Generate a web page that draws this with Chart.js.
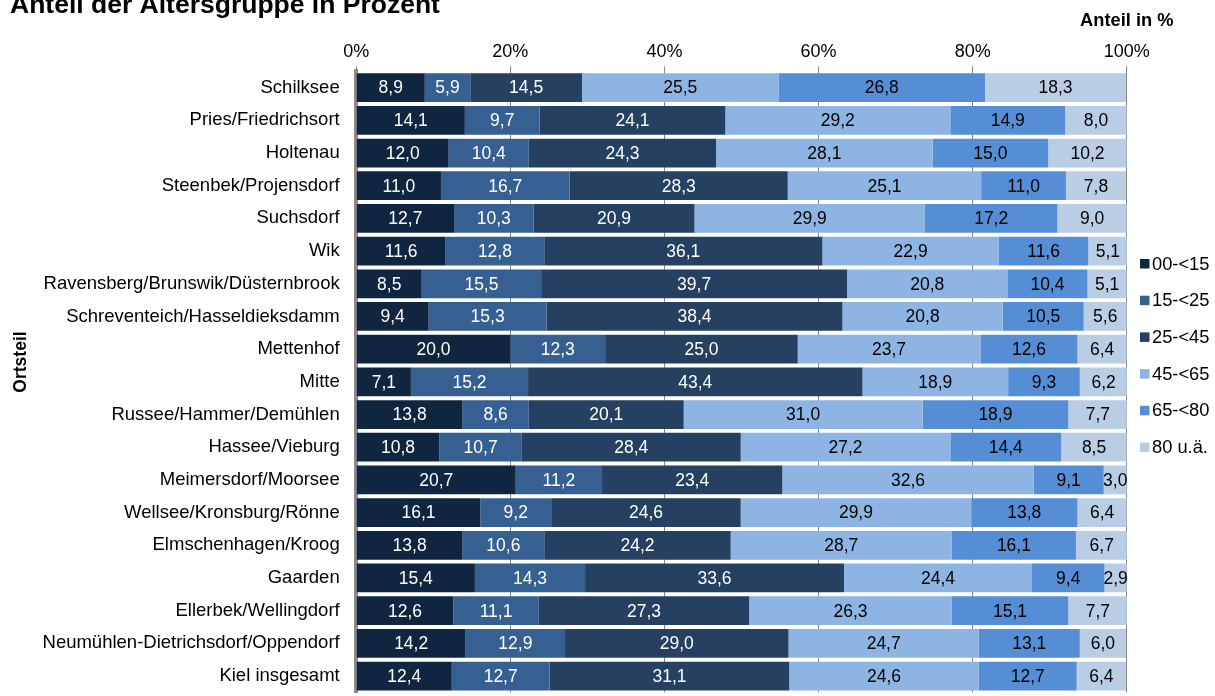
<!DOCTYPE html>
<html>
<head>
<meta charset="utf-8">
<script src="https://cdn.jsdelivr.net/npm/chart.js@4/dist/chart.umd.min.js"></script>
<style>
  html, body { margin: 0; padding: 0; overflow: hidden; background: #fff; }
  canvas { display: block; }
</style>
</head>
<body>
<canvas id="c" width="1215" height="720"></canvas>
<script>
// Kieler Ortsteile, Anteil der Altersgruppen an der Bevölkerung in %
const ortsteile = [
  'Schilksee', 'Pries/Friedrichsort', 'Holtenau', 'Steenbek/Projensdorf', 'Suchsdorf', 'Wik',
  'Ravensberg/Brunswik/Düsternbrook', 'Schreventeich/Hasseldieksdamm', 'Mettenhof', 'Mitte',
  'Russee/Hammer/Demühlen', 'Hassee/Vieburg', 'Meimersdorf/Moorsee', 'Wellsee/Kronsburg/Rönne',
  'Elmschenhagen/Kroog', 'Gaarden', 'Ellerbek/Wellingdorf', 'Neumühlen-Dietrichsdorf/Oppendorf',
  'Kiel insgesamt'
];
const altersgruppen = ['00-<15', '15-<25', '25-<45', '45-<65', '65-<80', '80 u.ä.'];

const anteil00bis15 = [8.9, 14.1, 12.0, 11.0, 12.7, 11.6, 8.5, 9.4, 20.0, 7.1, 13.8, 10.8, 20.7, 16.1, 13.8, 15.4, 12.6, 14.2, 12.4];
const anteil15bis25 = [5.9, 9.7, 10.4, 16.7, 10.3, 12.8, 15.5, 15.3, 12.3, 15.2, 8.6, 10.7, 11.2, 9.2, 10.6, 14.3, 11.1, 12.9, 12.7];
const anteil25bis45 = [14.5, 24.1, 24.3, 28.3, 20.9, 36.1, 39.7, 38.4, 25.0, 43.4, 20.1, 28.4, 23.4, 24.6, 24.2, 33.6, 27.3, 29.0, 31.1];
const anteil45bis65 = [25.5, 29.2, 28.1, 25.1, 29.9, 22.9, 20.8, 20.8, 23.7, 18.9, 31.0, 27.2, 32.6, 29.9, 28.7, 24.4, 26.3, 24.7, 24.6];
const anteil65bis80 = [26.8, 14.9, 15.0, 11.0, 17.2, 11.6, 10.4, 10.5, 12.6, 9.3, 18.9, 14.4, 9.1, 13.8, 16.1, 9.4, 15.1, 13.1, 12.7];
const anteil80plus  = [18.3, 8.0, 10.2, 7.8, 9.0, 5.1, 5.1, 5.6, 6.4, 6.2, 7.7, 8.5, 3.0, 6.4, 6.7, 2.9, 7.7, 6.0, 6.4];

const xTickWerte = [0, 20, 40, 60, 80, 100];

const reihen = [anteil00bis15, anteil15bis25, anteil25bis45, anteil45bis65, anteil65bis80, anteil80plus];
const farben = ['#10253F', '#376092', '#254061', '#8DB4E2', '#558ED5', '#B9CDE5'];
const labelFarben = ['#ffffff', '#ffffff', '#ffffff', '#000000', '#000000', '#000000'];

const FONT = "'Liberation Sans', Arial, Helvetica, sans-serif";

// Werte mittig in jedes Segment schreiben (Dezimalkomma)
const segmentLabels = {
  id: 'segmentLabels',
  afterDatasetsDraw(chart) {
    const ctx = chart.ctx;
    ctx.save();
    ctx.font = '17.5px ' + FONT;
    ctx.textAlign = 'center';
    ctx.textBaseline = 'middle';
    chart.data.datasets.forEach((ds, di) => {
      const meta = chart.getDatasetMeta(di);
      ctx.fillStyle = labelFarben[di];
      meta.data.forEach((bar, i) => {
        const p = bar.getProps(['x', 'y', 'base'], true);
        const txt = ds.data[i].toFixed(1).replace('.', ',');
        ctx.fillText(txt, (p.x + p.base) / 2, p.y + 1);
      });
    });
    ctx.restore();
  }
};

// Überschrift, Achsentitel und Legende
const beschriftung = {
  id: 'beschriftung',
  afterDraw(chart) {
    const ctx = chart.ctx;
    const area = chart.chartArea;
    ctx.save();
    ctx.fillStyle = '#000';

    ctx.font = 'bold 26.5px ' + FONT;
    ctx.textAlign = 'left';
    ctx.textBaseline = 'alphabetic';
    ctx.fillText('Anteil der Altersgruppe in Prozent', 10, 13);

    ctx.font = 'bold 18.3px ' + FONT;
    ctx.textAlign = 'center';
    ctx.textBaseline = 'middle';
    ctx.fillText('Anteil in %', area.right, 21);

    ctx.save();
    ctx.translate(21, 362);
    ctx.rotate(-Math.PI / 2);
    ctx.font = 'bold 17.5px ' + FONT;
    ctx.fillText('Ortsteil', 0, 0);
    ctx.restore();

    ctx.font = '18.3px ' + FONT;
    ctx.textAlign = 'left';
    chart.data.datasets.forEach((ds, i) => {
      const cy = 263.5 + i * 36.7;
      ctx.fillStyle = ds.backgroundColor;
      ctx.fillRect(1140, cy - 4.5, 9.5, 9.5);
      ctx.fillStyle = '#000';
      ctx.fillText(ds.label, 1152, cy + 1);
    });
    ctx.restore();
  }
};

new Chart(document.getElementById('c'), {
  type: 'bar',
  data: {
    labels: ortsteile,
    datasets: reihen.map((werte, i) => ({
      label: altersgruppen[i],
      data: werte,
      backgroundColor: farben[i],
      borderWidth: 0,
      categoryPercentage: 1,
      barPercentage: 0.88
    }))
  },
  options: {
    indexAxis: 'y',
    responsive: false,
    animation: false,
    devicePixelRatio: 1,
    layout: { padding: { left: 0, right: 88.2, top: 0, bottom: 15.3 } },
    plugins: {
      legend: { display: false },
      tooltip: { enabled: false },
      title: { display: false }
    },
    scales: {
      x: {
        position: 'top',
        stacked: true,
        min: 0,
        max: 100,
        afterBuildTicks(scale) { scale.ticks = xTickWerte.map(v => ({ value: v })); },
        afterFit(scale) { scale.height = 71.3; },
        grid: { color: '#868686', lineWidth: 1, drawTicks: true, tickLength: 5 },
        border: { display: false },
        ticks: {
          padding: 3.5,
          color: '#000',
          font: { family: FONT, size: 18 },
          callback: v => v + '%'
        }
      },
      y: {
        position: 'left',
        stacked: true,
        z: 1,
        afterFit(scale) { scale.width = 356.2; },
        grid: { display: false, drawTicks: false },
        border: { display: true, color: '#8C8C8C', width: 4 },
        ticks: {
          autoSkip: false,
          padding: 16.5,
          color: '#000',
          font: { family: FONT, size: 18.5 }
        }
      }
    }
  },
  plugins: [segmentLabels, beschriftung]
});
</script>
</body>
</html>
